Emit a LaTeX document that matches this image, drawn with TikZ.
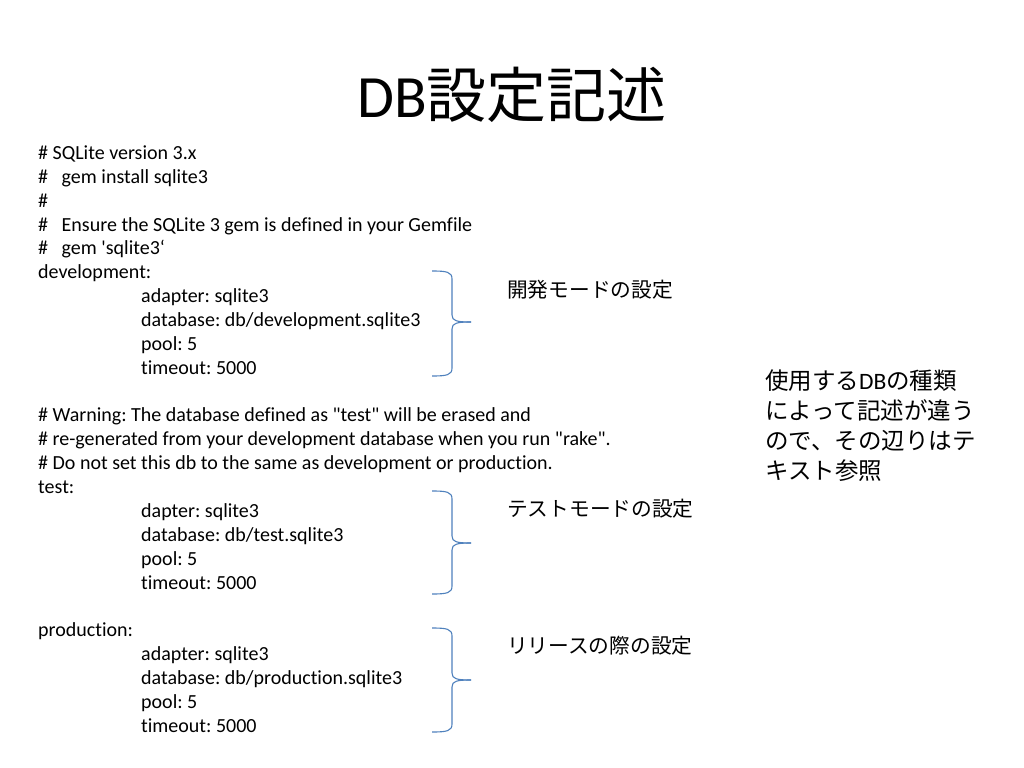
\documentclass[tikz,border=0pt]{standalone}
\usepackage{fontspec}
\setmainfont{Carlito}[Ligatures={TeXOff,NoCommon}]
\newfontfamily\jp{Noto Sans CJK JP}
\definecolor{bracecol}{RGB}{79,129,189}
\tikzset{
  codeline/.style={anchor=base west, inner sep=0pt, font=\fontsize{20bp}{24bp}\selectfont},
  jplabel/.style={anchor=base west, inner sep=0pt, font=\jp\fontsize{20.7bp}{24bp}\selectfont},
  bracestyle/.style={draw=bracecol, line width=1.1bp},
}
\newcommand{\mybrace}[3]{%
  \draw[bracestyle] (432,#1) .. controls (447,#1) and (452,#1+1) .. (452,#1+8) -- (452,#3-7) .. controls (452,#3-1) and (457,#3) .. (471,#3);
  \draw[bracestyle] (471,#3) .. controls (457,#3) and (452,#3+1) .. (452,#3+7) -- (452,#2-8) .. controls (452,#2-1) and (447,#2) .. (432,#2);
}
\frenchspacing
\begin{document}
\begin{tikzpicture}[x=1bp,y=-1bp]
\useasboundingbox[fill=white] (0,0) rectangle (1024,768);
% title
\node[anchor=base, inner sep=0pt, font=\fontsize{60bp}{70bp}\selectfont] (title) at (512,117) {DB{\jp 設定記述}};
% code lines
\def\x{38}\def\xi{141}
\node[codeline] (l1) at (\x,159) {\# SQLite version 3.x};
\node[codeline] (l2) at (\x,183) {\#\ \ \ gem install sqlite3};
\node[codeline] (l3) at (\x,207) {\#};
\node[codeline] (l4) at (\x,231) {\#\ \ \ Ensure the SQLite 3 gem is defined in your Gemfile};
\node[codeline] (l5) at (\x,254) {\#\ \ \ gem 'sqlite3‘};
\node[codeline] (l6) at (\x,278) {development:};
\node[codeline] (l7) at (\xi,302) {adapter: sqlite3};
\node[codeline] (l8) at (\xi,326) {database: db/development.sqlite3};
\node[codeline] (l9) at (\xi,350) {pool: 5};
\node[codeline] (l10) at (\xi,374) {timeout: 5000};
\node[codeline] (l11) at (\x,421) {\# Warning: The database defined as "test" will be erased and};
\node[codeline] (l12) at (\x,445) {\# re-generated from your development database when you run "rake".};
\node[codeline] (l13) at (\x,469) {\# Do not set this db to the same as development or production.};
\node[codeline] (l14) at (\x,493) {test:};
\node[codeline] (l15) at (\xi,517) {dapter: sqlite3};
\node[codeline] (l16) at (\xi,541) {database: db/test.sqlite3};
\node[codeline] (l17) at (\xi,565) {pool: 5};
\node[codeline] (l18) at (\xi,589) {timeout: 5000};
\node[codeline] (l19) at (\x,636) {production:};
\node[codeline] (l20) at (\xi,660) {adapter: sqlite3};
\node[codeline] (l21) at (\xi,684) {database: db/production.sqlite3};
\node[codeline] (l22) at (\xi,708) {pool: 5};
\node[codeline] (l23) at (\xi,732) {timeout: 5000};
% braces
\mybrace{271}{376}{322}
\mybrace{491}{594}{543}
\mybrace{628}{732}{680}
% labels
\node[jplabel] (dev) at (507,297) {開発モードの設定};
\node[jplabel] (tst) at (507,516) {テストモードの設定};
\node[jplabel] (prd) at (507,653) {リリースの際の設定};
% note
\node[anchor=north west, inner sep=0pt, align=left, font=\jp\fontsize{23.5bp}{30bp}\selectfont] (note) at (765,370)
  {使用する{\rmfamily DB}の種類\\によって記述が違う\\ので、その辺りはテ\\キスト参照};
\end{tikzpicture}
\end{document}
